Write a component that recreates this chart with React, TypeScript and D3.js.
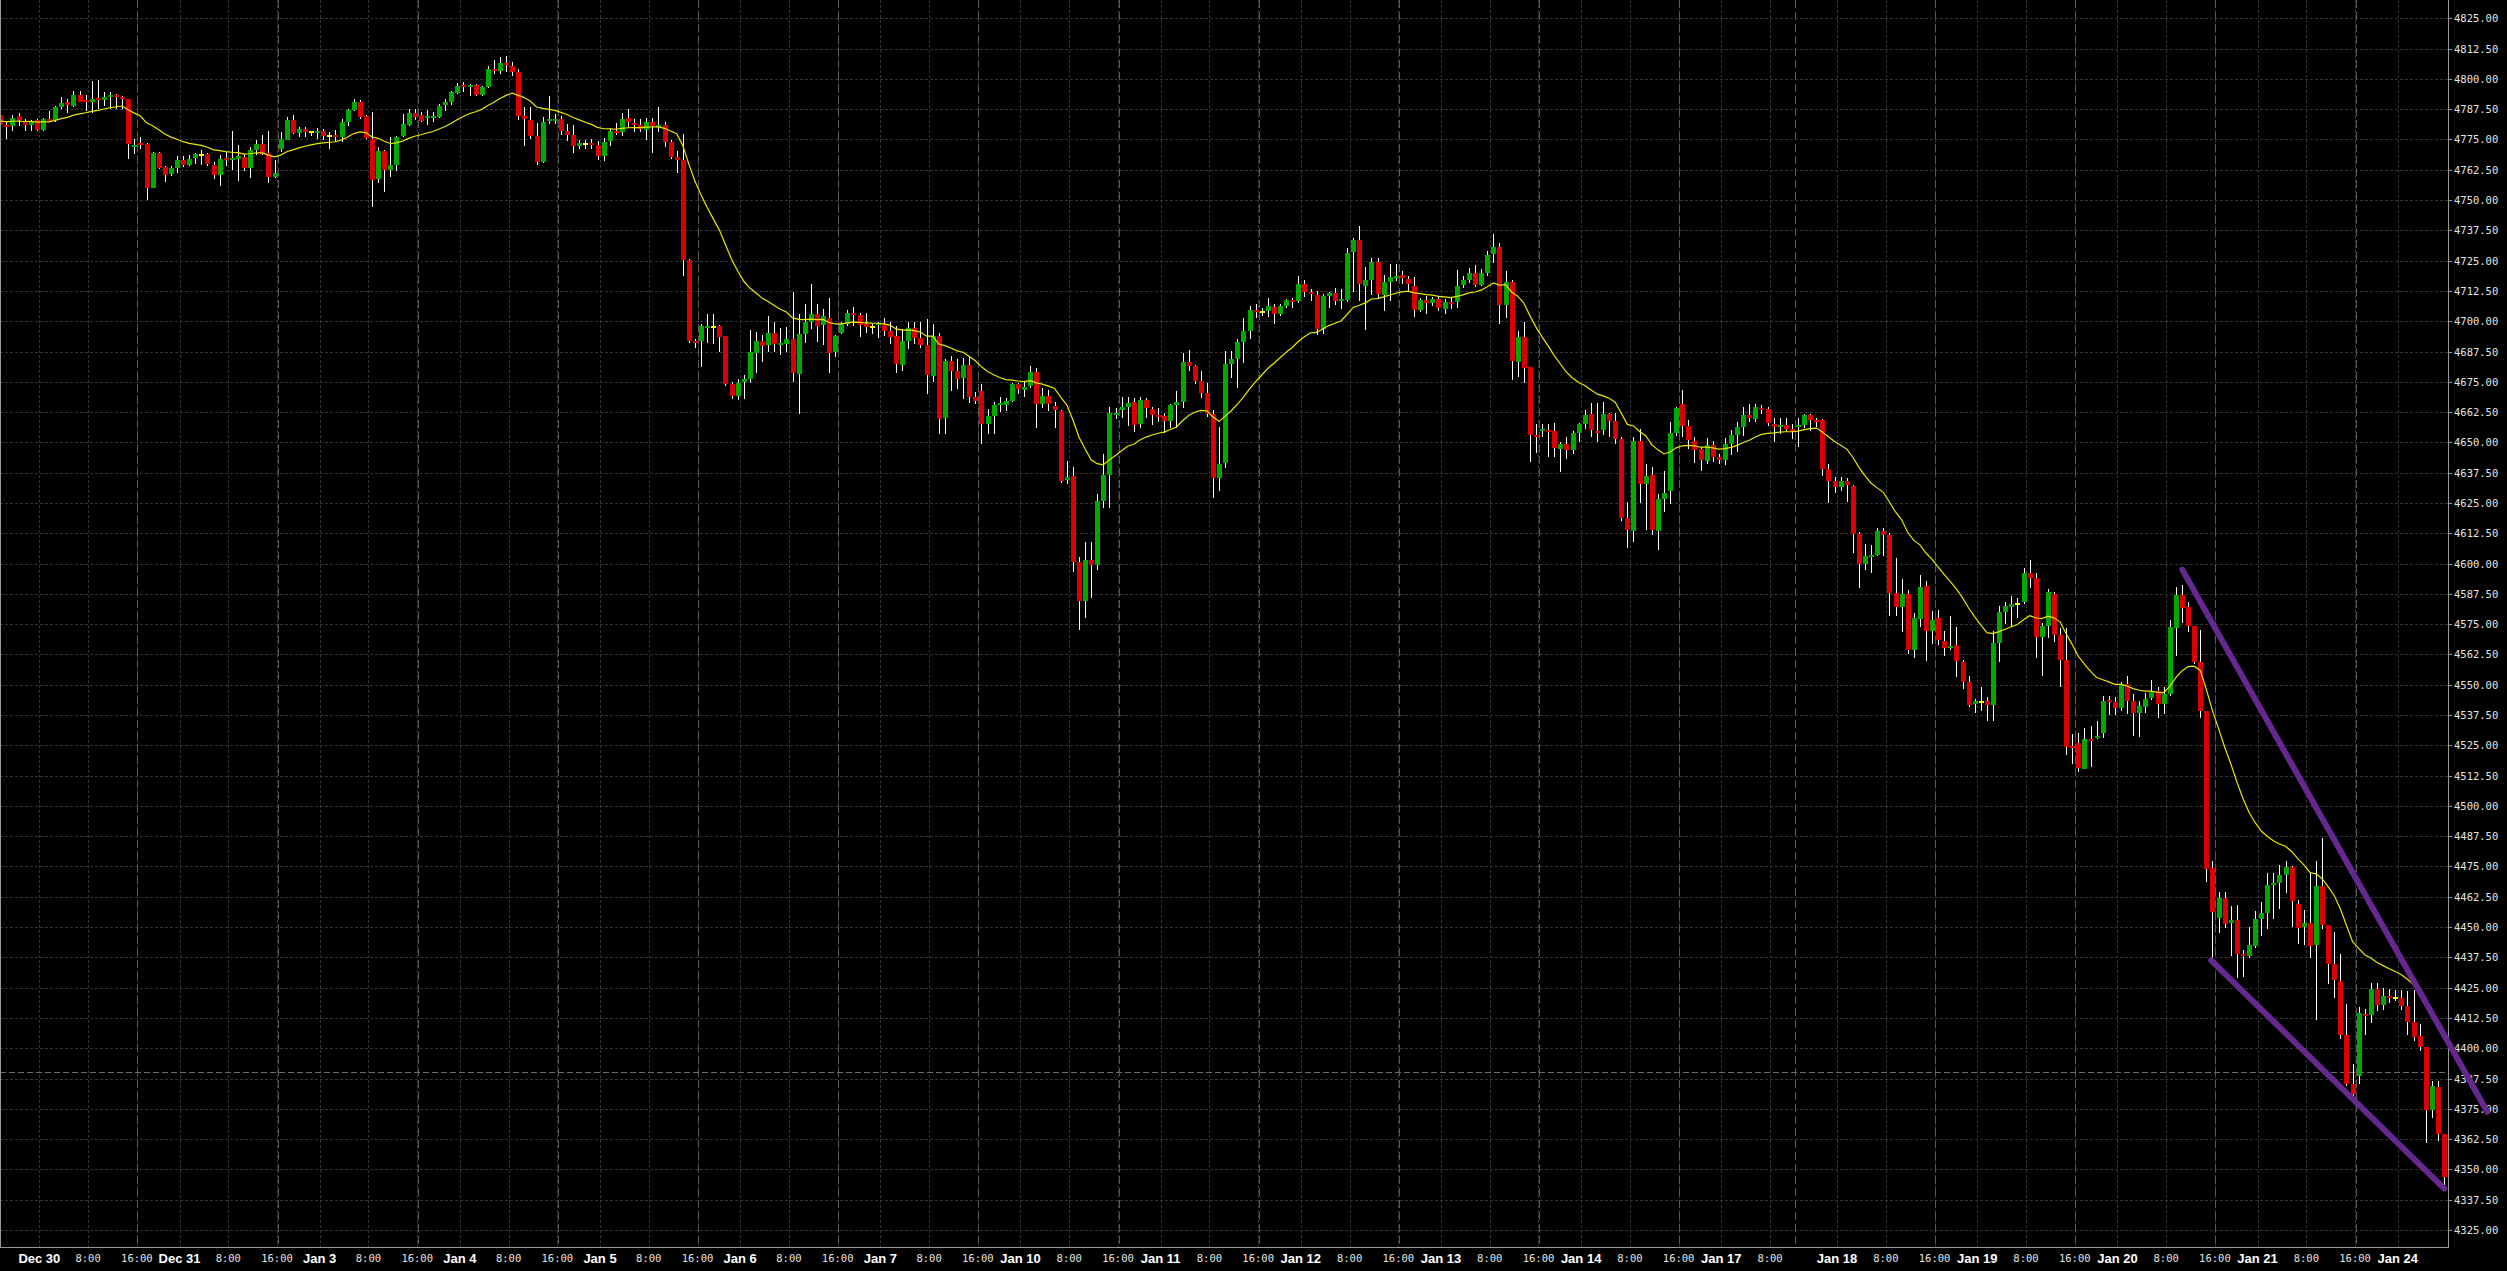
import React from "react";
import * as d3 from "d3";

// ---------- DATA (H1 candles, index 0 = Dec 29 18:00) ----------
const open = [
  4784.9, 4780.7, 4780.7, 4784.5, 4782.4, 4781.2, 4783.1, 4779.1, 4783.1, 4783.1,
  4788.6, 4790.6, 4789.1, 4793.5, 4791.1, 4790.8, 4791.9, 4791.6, 4792.4, 4793.1,
  4792.3, 4791.5, 4771.8, 4773.6, 4773.3, 4755.3, 4769.6, 4763.8, 4761.1, 4763.4,
  4766.7, 4764.6, 4767.1, 4768.5, 4768.8, 4764.6, 4760.5, 4767.1, 4766.4, 4766.9,
  4767.8, 4763.1, 4770.8, 4773.3, 4769.6, 4759.8, 4770.8, 4775.0, 4783.2, 4778.0,
  4779.5, 4778.0, 4777.7, 4778.7, 4776.3, 4776.6, 4776.2, 4782.4, 4787.3, 4790.6,
  4784.5, 4775.4, 4758.9, 4770.4, 4762.7, 4764.6, 4776.2, 4781.2, 4786.1, 4785.3,
  4783.5, 4783.8, 4784.5, 4789.0, 4790.4, 4794.5, 4797.2, 4796.6, 4797.5, 4793.5,
  4796.6, 4803.9, 4803.2, 4806.5, 4805.5, 4803.0, 4784.7, 4783.1, 4776.5, 4765.9,
  4782.4, 4782.7, 4783.4, 4778.3, 4776.8, 4772.4, 4773.2, 4773.5, 4772.8, 4768.2,
  4774.4, 4778.6, 4777.9, 4783.8, 4782.0, 4781.0, 4779.2, 4782.3, 4779.9, 4780.9,
  4774.0, 4767.8, 4766.6, 4725.2, 4691.9, 4691.9, 4697.4, 4697.8, 4698.1, 4693.7,
  4674.0, 4669.2, 4674.7, 4676.1, 4687.1, 4691.9, 4690.1, 4695.1, 4690.1, 4690.5,
  4692.6, 4678.2, 4694.9, 4699.7, 4702.9, 4698.1, 4701.5, 4687.1, 4695.1, 4698.8,
  4703.3, 4702.6, 4699.0, 4697.5, 4698.4, 4698.8, 4696.1, 4693.7, 4682.0, 4691.9,
  4697.1, 4692.9, 4690.1, 4677.7, 4694.0, 4659.9, 4683.6, 4679.5, 4676.4, 4681.9,
  4668.8, 4671.2, 4657.4, 4660.9, 4665.3, 4665.4, 4667.1, 4674.0, 4671.8, 4673.3,
  4678.9, 4665.7, 4669.1, 4665.0, 4663.0, 4634.3, 4636.1, 4600.8, 4584.3, 4601.3,
  4599.4, 4625.8, 4636.5, 4661.3, 4663.4, 4664.6, 4666.5, 4657.2, 4667.3, 4663.9,
  4661.3, 4660.9, 4658.8, 4665.1, 4666.5, 4683.2, 4681.5, 4675.3, 4670.5, 4661.8,
  4635.4, 4641.2, 4682.2, 4684.3, 4691.4, 4696.0, 4704.5, 4703.7, 4703.9, 4705.9,
  4703.1, 4706.3, 4708.6, 4708.3, 4715.2, 4711.8, 4710.8, 4696.6, 4710.4, 4711.6,
  4708.1, 4709.0, 4728.3, 4733.4, 4714.5, 4716.9, 4724.4, 4711.1, 4716.3, 4718.0,
  4718.9, 4717.3, 4714.5, 4704.5, 4708.6, 4707.2, 4709.0, 4705.2, 4708.1, 4707.7,
  4714.9, 4716.9, 4720.1, 4715.2, 4720.1, 4727.7, 4730.7, 4706.8, 4716.3, 4683.3,
  4693.6, 4681.0, 4653.2, 4654.9, 4655.2, 4654.6, 4647.2, 4649.3, 4646.8, 4653.8,
  4657.4, 4661.6, 4654.6, 4654.9, 4661.6, 4658.8, 4651.4, 4618.6, 4613.7, 4650.7,
  4632.9, 4636.5, 4613.3, 4626.7, 4629.8, 4653.8, 4665.8, 4656.6, 4650.4, 4647.2,
  4642.6, 4649.0, 4644.0, 4642.6, 4649.3, 4653.2, 4656.3, 4661.2, 4659.8, 4664.3,
  4663.6, 4657.7, 4656.3, 4657.3, 4655.6, 4656.3, 4657.0, 4661.2, 4659.1, 4659.1,
  4638.9, 4634.0, 4631.5, 4634.0, 4631.9, 4612.0, 4599.8, 4602.9, 4603.6, 4613.4,
  4611.7, 4587.7, 4582.1, 4587.3, 4564.2, 4577.5, 4590.7, 4572.3, 4577.5, 4568.1,
  4565.3, 4566.3, 4559.5, 4551.3, 4542.0, 4542.7, 4543.2, 4541.6, 4567.2, 4579.9,
  4582.3, 4583.5, 4584.0, 4596.0, 4594.0, 4569.6, 4574.2, 4587.6, 4570.6, 4560.3,
  4524.7, 4526.1, 4515.4, 4527.7, 4528.0, 4529.8, 4543.5, 4542.7, 4540.4, 4550.2,
  4543.2, 4538.3, 4541.1, 4544.3, 4547.3, 4541.9, 4546.0, 4573.7, 4587.2, 4582.0,
  4574.2, 4559.5, 4539.1, 4474.2, 4453.9, 4462.1, 4451.7, 4452.9, 4438.8, 4438.0,
  4442.0, 4453.3, 4455.9, 4467.3, 4468.0, 4471.4, 4474.7, 4459.6, 4450.2, 4451.8,
  4442.5, 4466.8, 4450.7, 4434.7, 4427.8, 4405.6, 4385.4, 4388.7, 4414.3, 4413.8,
  4424.6, 4418.0, 4421.6, 4420.8, 4420.8, 4417.6, 4411.0, 4405.0, 4400.4, 4374.3,
  4384.1, 4364.5,
];

const high = [
  4786.2, 4782.8, 4784.9, 4786.0, 4783.5, 4783.1, 4783.5, 4783.8, 4786.9, 4789.0,
  4792.7, 4791.7, 4794.8, 4794.8, 4793.4, 4799.2, 4799.7, 4794.5, 4794.5, 4793.8,
  4793.1, 4791.7, 4775.2, 4776.2, 4773.6, 4769.7, 4769.7, 4764.2, 4764.0, 4768.0,
  4768.0, 4768.6, 4769.3, 4770.7, 4769.3, 4765.6, 4768.4, 4769.7, 4778.7, 4772.8,
  4769.1, 4771.8, 4774.6, 4776.9, 4778.3, 4766.6, 4778.0, 4784.2, 4784.9, 4780.1,
  4780.3, 4778.7, 4779.8, 4779.4, 4778.0, 4779.1, 4783.5, 4787.6, 4791.5, 4791.1,
  4784.9, 4786.5, 4771.8, 4770.7, 4775.9, 4776.3, 4785.6, 4787.6, 4787.6, 4786.2,
  4787.2, 4786.2, 4789.7, 4791.7, 4795.0, 4798.3, 4798.6, 4797.9, 4797.9, 4797.0,
  4805.5, 4807.6, 4809.0, 4809.5, 4807.0, 4804.0, 4788.2, 4788.2, 4782.0, 4784.1,
  4793.0, 4785.4, 4784.5, 4781.3, 4780.9, 4774.7, 4774.7, 4775.1, 4774.4, 4775.8,
  4779.9, 4781.7, 4786.1, 4787.5, 4783.4, 4783.4, 4784.0, 4784.0, 4788.2, 4782.3,
  4774.8, 4770.3, 4777.2, 4725.6, 4692.6, 4698.8, 4702.9, 4702.9, 4698.4, 4694.0,
  4675.0, 4676.1, 4677.7, 4696.4, 4695.5, 4694.2, 4702.2, 4699.7, 4697.4, 4697.7,
  4711.9, 4702.9, 4707.0, 4715.3, 4707.0, 4705.0, 4709.4, 4694.2, 4699.7, 4704.6,
  4705.7, 4703.3, 4703.3, 4699.0, 4699.7, 4701.5, 4699.5, 4698.1, 4696.7, 4699.7,
  4699.7, 4699.5, 4701.1, 4699.0, 4695.1, 4684.3, 4685.7, 4684.3, 4685.0, 4685.7,
  4670.6, 4674.0, 4663.6, 4666.8, 4668.7, 4668.2, 4674.6, 4674.6, 4675.0, 4681.5,
  4680.8, 4672.6, 4671.5, 4666.8, 4663.2, 4642.3, 4639.8, 4602.7, 4608.9, 4608.9,
  4628.6, 4645.3, 4664.6, 4664.3, 4668.7, 4668.7, 4668.2, 4668.7, 4668.4, 4664.6,
  4664.3, 4662.3, 4666.0, 4671.2, 4687.0, 4688.0, 4681.9, 4679.5, 4674.6, 4663.2,
  4656.3, 4687.7, 4687.7, 4692.5, 4701.5, 4706.3, 4707.0, 4705.6, 4709.4, 4707.0,
  4707.0, 4709.0, 4709.4, 4718.7, 4716.9, 4713.2, 4712.5, 4711.1, 4712.2, 4713.8,
  4713.2, 4730.3, 4734.5, 4739.3, 4722.4, 4725.9, 4726.2, 4719.1, 4723.7, 4723.5,
  4720.7, 4718.7, 4718.2, 4709.4, 4710.4, 4710.0, 4710.4, 4709.0, 4709.4, 4721.0,
  4718.7, 4722.1, 4723.3, 4721.6, 4729.1, 4736.1, 4732.3, 4720.8, 4717.0, 4696.1,
  4699.6, 4681.1, 4657.7, 4657.4, 4657.4, 4658.0, 4650.0, 4652.4, 4654.9, 4658.0,
  4663.3, 4666.3, 4666.3, 4666.8, 4662.2, 4662.2, 4652.1, 4625.6, 4652.1, 4655.6,
  4641.2, 4639.8, 4628.7, 4638.2, 4658.4, 4664.7, 4671.7, 4659.1, 4652.4, 4647.9,
  4651.8, 4650.7, 4645.4, 4651.8, 4655.2, 4658.4, 4664.4, 4665.8, 4665.8, 4665.4,
  4664.4, 4660.2, 4660.2, 4660.2, 4657.4, 4660.2, 4661.9, 4661.9, 4660.2, 4659.8,
  4641.2, 4635.7, 4635.7, 4635.4, 4632.3, 4613.1, 4608.2, 4607.5, 4614.8, 4614.5,
  4612.8, 4602.2, 4593.5, 4589.1, 4579.6, 4595.2, 4592.8, 4580.3, 4580.7, 4572.3,
  4578.2, 4573.7, 4560.3, 4553.8, 4544.3, 4549.2, 4544.8, 4572.1, 4582.3, 4584.0,
  4586.7, 4585.6, 4598.0, 4601.5, 4596.0, 4575.5, 4589.4, 4588.4, 4573.4, 4573.4,
  4529.6, 4530.1, 4532.3, 4532.9, 4535.0, 4545.3, 4545.3, 4544.8, 4551.3, 4553.5,
  4546.0, 4543.2, 4546.4, 4551.8, 4549.2, 4549.2, 4576.6, 4590.5, 4591.0, 4584.0,
  4574.2, 4572.6, 4539.1, 4477.4, 4464.4, 4464.4, 4458.8, 4459.2, 4440.4, 4450.2,
  4456.7, 4460.5, 4472.2, 4472.5, 4475.5, 4477.4, 4475.1, 4461.1, 4457.2, 4472.5,
  4477.4, 4486.9, 4451.0, 4448.1, 4438.8, 4418.4, 4393.6, 4417.1, 4416.4, 4426.9,
  4426.9, 4424.9, 4424.6, 4424.1, 4424.1, 4423.6, 4424.1, 4409.9, 4400.6, 4386.6,
  4386.6, 4364.5,
];

const low = [
  4778.7, 4775.2, 4778.7, 4780.7, 4778.7, 4778.7, 4778.7, 4778.7, 4782.1, 4782.1,
  4787.6, 4786.0, 4788.3, 4790.4, 4786.9, 4786.0, 4787.6, 4789.0, 4787.6, 4787.6,
  4787.6, 4767.0, 4769.1, 4771.1, 4750.2, 4755.0, 4762.9, 4757.4, 4760.1, 4761.1,
  4763.5, 4764.2, 4764.9, 4764.6, 4764.2, 4758.5, 4755.7, 4764.2, 4762.2, 4757.8,
  4761.9, 4759.0, 4768.6, 4768.6, 4756.9, 4759.0, 4769.7, 4774.6, 4777.3, 4775.9,
  4776.2, 4776.6, 4775.2, 4774.6, 4771.1, 4773.9, 4773.9, 4780.7, 4786.9, 4783.5,
  4775.0, 4747.0, 4757.1, 4753.2, 4759.4, 4761.8, 4775.9, 4780.5, 4783.2, 4782.1,
  4781.0, 4782.4, 4783.8, 4786.9, 4789.3, 4793.8, 4794.5, 4792.8, 4793.1, 4793.1,
  4796.3, 4802.1, 4802.0, 4803.0, 4801.0, 4783.0, 4772.4, 4775.1, 4764.4, 4765.2,
  4781.3, 4781.3, 4776.8, 4774.4, 4769.3, 4771.0, 4771.0, 4771.0, 4766.6, 4766.2,
  4772.4, 4776.8, 4776.5, 4779.9, 4777.9, 4777.9, 4774.7, 4769.6, 4777.9, 4771.7,
  4766.9, 4761.1, 4718.7, 4691.2, 4689.1, 4681.3, 4691.2, 4690.5, 4687.4, 4673.1,
  4667.8, 4667.5, 4668.1, 4674.7, 4678.6, 4683.2, 4687.1, 4687.4, 4686.0, 4687.4,
  4675.0, 4661.6, 4691.2, 4696.7, 4691.5, 4690.1, 4678.6, 4685.4, 4694.6, 4698.1,
  4698.1, 4693.3, 4695.1, 4694.7, 4692.9, 4694.0, 4690.5, 4678.6, 4679.5, 4688.7,
  4690.5, 4689.1, 4669.9, 4675.0, 4653.4, 4653.4, 4671.3, 4672.0, 4668.1, 4666.2,
  4665.8, 4649.5, 4653.3, 4653.3, 4662.7, 4663.0, 4666.8, 4670.1, 4668.7, 4672.6,
  4655.8, 4664.0, 4663.0, 4656.1, 4633.4, 4632.7, 4596.6, 4572.4, 4577.4, 4585.9,
  4597.2, 4622.8, 4622.8, 4659.5, 4659.9, 4656.8, 4654.4, 4656.1, 4660.2, 4657.2,
  4658.5, 4654.0, 4655.8, 4655.8, 4664.3, 4679.5, 4673.9, 4668.4, 4660.5, 4626.9,
  4629.9, 4639.6, 4676.7, 4672.6, 4682.9, 4692.5, 4701.5, 4702.2, 4701.7, 4698.7,
  4702.2, 4705.6, 4705.6, 4707.6, 4710.0, 4708.3, 4694.3, 4694.9, 4705.6, 4706.7,
  4704.9, 4708.1, 4712.2, 4708.3, 4696.2, 4710.8, 4709.0, 4704.2, 4708.3, 4716.6,
  4715.2, 4712.5, 4701.7, 4703.9, 4702.8, 4706.3, 4704.2, 4703.1, 4704.9, 4705.6,
  4713.8, 4715.9, 4714.2, 4714.6, 4718.8, 4724.0, 4698.9, 4701.2, 4675.8, 4676.8,
  4674.7, 4642.1, 4645.8, 4652.4, 4643.8, 4644.0, 4637.9, 4643.0, 4645.2, 4650.0,
  4655.6, 4652.4, 4650.0, 4653.2, 4652.4, 4649.3, 4617.5, 4606.4, 4609.0, 4624.9,
  4613.8, 4611.7, 4605.4, 4621.4, 4624.5, 4652.8, 4652.4, 4647.2, 4641.6, 4638.4,
  4641.2, 4642.1, 4641.2, 4640.7, 4644.9, 4645.9, 4652.8, 4658.4, 4658.4, 4661.9,
  4656.6, 4650.0, 4653.5, 4654.2, 4651.4, 4647.9, 4656.0, 4654.6, 4656.3, 4636.1,
  4624.9, 4629.1, 4629.8, 4625.6, 4604.4, 4590.0, 4597.4, 4596.3, 4603.0, 4603.0,
  4578.2, 4578.3, 4571.9, 4562.8, 4561.2, 4574.0, 4560.0, 4566.7, 4566.3, 4561.7,
  4564.2, 4553.3, 4548.1, 4540.7, 4538.3, 4539.1, 4535.0, 4535.0, 4559.5, 4575.0,
  4573.7, 4577.4, 4583.2, 4590.0, 4561.1, 4553.8, 4569.3, 4567.7, 4548.9, 4521.2,
  4517.1, 4513.8, 4515.4, 4515.9, 4527.7, 4528.0, 4537.5, 4537.5, 4539.1, 4537.8,
  4529.0, 4528.5, 4538.3, 4543.7, 4536.2, 4537.8, 4545.3, 4562.0, 4575.3, 4571.7,
  4558.4, 4536.2, 4468.6, 4437.1, 4447.7, 4449.7, 4438.0, 4429.0, 4429.3, 4437.1,
  4441.2, 4446.4, 4449.0, 4453.4, 4457.5, 4464.1, 4450.2, 4443.2, 4442.8, 4437.1,
  4411.8, 4449.4, 4426.5, 4420.8, 4404.0, 4384.4, 4380.5, 4385.4, 4405.6, 4410.5,
  4415.4, 4415.9, 4418.7, 4419.7, 4415.9, 4405.3, 4402.9, 4399.0, 4360.9, 4371.4,
  4361.6, 4343.3,
];

const close = [
  4780.7, 4780.1, 4784.0, 4782.8, 4781.2, 4782.7, 4779.1, 4783.5, 4782.7, 4788.3,
  4790.2, 4789.5, 4793.5, 4790.8, 4790.4, 4791.9, 4791.2, 4792.7, 4793.1, 4792.4,
  4791.6, 4772.8, 4772.6, 4773.0, 4755.3, 4769.6, 4763.5, 4760.5, 4763.4, 4766.7,
  4764.6, 4767.1, 4768.8, 4768.5, 4764.6, 4760.5, 4767.1, 4766.4, 4767.1, 4768.0,
  4763.1, 4770.7, 4773.3, 4769.3, 4759.7, 4761.3, 4775.0, 4783.2, 4778.0, 4779.5,
  4778.4, 4778.0, 4778.4, 4776.6, 4776.3, 4775.9, 4782.4, 4787.3, 4790.6, 4784.5,
  4775.4, 4758.6, 4770.4, 4762.7, 4764.6, 4776.2, 4781.2, 4786.1, 4784.5, 4782.8,
  4784.5, 4784.5, 4789.0, 4790.4, 4794.5, 4797.2, 4796.6, 4797.5, 4793.5, 4796.6,
  4803.9, 4803.2, 4806.5, 4805.5, 4803.0, 4784.7, 4783.4, 4776.5, 4765.9, 4782.3,
  4783.4, 4783.4, 4778.3, 4776.8, 4772.4, 4773.5, 4773.2, 4772.8, 4768.2, 4774.0,
  4778.6, 4777.9, 4783.4, 4782.0, 4781.0, 4779.2, 4782.3, 4780.6, 4780.9, 4773.7,
  4767.8, 4766.6, 4725.2, 4691.9, 4691.2, 4698.1, 4698.1, 4697.8, 4693.7, 4673.7,
  4669.2, 4674.7, 4676.1, 4687.1, 4691.9, 4689.8, 4695.1, 4690.5, 4690.7, 4692.6,
  4678.6, 4694.9, 4699.7, 4702.9, 4698.1, 4702.0, 4687.1, 4693.7, 4698.8, 4703.3,
  4702.6, 4698.5, 4697.8, 4697.5, 4699.1, 4696.1, 4693.7, 4682.0, 4691.9, 4697.1,
  4692.9, 4690.1, 4677.7, 4694.0, 4659.9, 4683.6, 4679.5, 4676.4, 4681.9, 4668.8,
  4667.1, 4657.4, 4660.9, 4665.4, 4666.0, 4667.1, 4674.0, 4671.9, 4672.9, 4678.9,
  4665.7, 4669.1, 4665.7, 4663.4, 4634.3, 4635.7, 4600.8, 4584.8, 4601.3, 4599.3,
  4625.8, 4636.5, 4662.1, 4662.1, 4664.6, 4666.2, 4657.2, 4667.3, 4663.9, 4661.3,
  4660.5, 4658.8, 4665.4, 4666.5, 4683.2, 4681.5, 4675.3, 4670.5, 4661.8, 4635.4,
  4641.0, 4682.2, 4684.3, 4691.4, 4696.0, 4704.5, 4703.9, 4703.7, 4706.1, 4703.1,
  4706.3, 4708.6, 4708.1, 4715.2, 4711.8, 4711.1, 4696.6, 4710.4, 4711.6, 4708.1,
  4709.0, 4728.3, 4733.4, 4715.2, 4716.9, 4724.4, 4711.1, 4716.3, 4718.2, 4718.7,
  4717.7, 4715.2, 4704.5, 4708.6, 4707.2, 4709.0, 4705.2, 4707.9, 4707.2, 4714.5,
  4716.9, 4719.9, 4715.2, 4720.1, 4727.5, 4730.7, 4706.8, 4716.3, 4683.8, 4693.6,
  4681.0, 4652.8, 4652.4, 4655.6, 4654.5, 4647.7, 4649.3, 4646.8, 4653.8, 4657.4,
  4661.2, 4654.9, 4654.1, 4661.6, 4658.8, 4651.4, 4618.6, 4613.7, 4650.7, 4632.9,
  4636.1, 4613.8, 4626.7, 4629.1, 4653.8, 4664.0, 4656.6, 4650.7, 4646.5, 4642.6,
  4649.0, 4644.0, 4642.6, 4649.3, 4653.2, 4656.3, 4661.2, 4659.8, 4664.7, 4663.6,
  4657.7, 4656.3, 4657.3, 4655.6, 4654.6, 4657.0, 4661.2, 4659.1, 4658.4, 4638.9,
  4634.0, 4631.5, 4634.0, 4632.3, 4612.0, 4599.8, 4603.3, 4603.6, 4613.4, 4611.7,
  4587.7, 4582.1, 4587.3, 4564.2, 4577.5, 4590.5, 4572.3, 4576.8, 4568.4, 4565.3,
  4565.9, 4559.8, 4551.3, 4542.0, 4543.2, 4542.7, 4541.6, 4567.2, 4579.9, 4582.3,
  4583.5, 4583.5, 4596.0, 4594.0, 4569.6, 4574.2, 4588.1, 4570.6, 4560.3, 4524.4,
  4524.1, 4515.9, 4527.7, 4527.0, 4529.0, 4543.2, 4542.7, 4540.4, 4550.2, 4543.2,
  4538.3, 4541.1, 4544.3, 4547.3, 4541.9, 4546.0, 4573.7, 4587.2, 4582.0, 4574.2,
  4559.5, 4539.1, 4473.8, 4456.2, 4462.1, 4451.3, 4452.9, 4438.8, 4438.0, 4442.5,
  4453.3, 4455.9, 4467.3, 4468.0, 4471.4, 4474.7, 4460.5, 4449.9, 4451.8, 4442.5,
  4466.8, 4450.7, 4434.7, 4428.2, 4405.6, 4385.4, 4381.2, 4414.6, 4413.5, 4424.6,
  4418.0, 4421.6, 4420.8, 4420.8, 4417.6, 4411.0, 4405.0, 4400.4, 4374.3, 4384.4,
  4364.5, 4346.6,
];

// Moving average (exponential, period 20) — value just before the first bar
const maPeriod = 20;
const maSeed = 4782.8;

// Price axis ticks
const priceTicks = [
  4325, 4337.5, 4350, 4362.5, 4375, 4387.5, 4400, 4412.5, 4425, 4437.5,
  4450, 4462.5, 4475, 4487.5, 4500, 4512.5, 4525, 4537.5, 4550, 4562.5,
  4575, 4587.5, 4600, 4612.5, 4625, 4637.5, 4650, 4662.5, 4675, 4687.5,
  4700, 4712.5, 4725, 4737.5, 4750, 4762.5, 4775, 4787.5, 4800, 4812.5, 4825,
];

// Time axis ticks (bar index, label)
const timeTickIdx = [
  6, 14, 22, 29, 37, 45, 52, 60, 68, 75, 83, 91, 98, 106, 114, 121, 129, 137,
  144, 152, 160, 167, 175, 183, 190, 198, 206, 213, 221, 229, 236, 244, 252,
  259, 267, 275, 282, 290, 301, 309, 317, 324, 332, 340, 347, 355, 363, 370,
  378, 386, 393,
];
const timeTickText = [
  "Dec 30", "8:00", "16:00", "Dec 31", "8:00", "16:00", "Jan 3", "8:00", "16:00",
  "Jan 4", "8:00", "16:00", "Jan 5", "8:00", "16:00", "Jan 6", "8:00", "16:00",
  "Jan 7", "8:00", "16:00", "Jan 10", "8:00", "16:00", "Jan 11", "8:00", "16:00",
  "Jan 12", "8:00", "16:00", "Jan 13", "8:00", "16:00", "Jan 14", "8:00", "16:00",
  "Jan 17", "8:00", "Jan 18", "8:00", "16:00", "Jan 19", "8:00", "16:00",
  "Jan 20", "8:00", "16:00", "Jan 21", "8:00", "16:00", "Jan 24",
];

// Session separators (after these bars)
const separatorIdx = [22, 45, 68, 91, 114, 137, 160, 183, 206, 229, 252, 275, 294, 317, 340, 363, 386];

// Dashed horizontal level
const levelPrice = 4390;

// Hand-drawn trend lines: [barIndex, price]
const trendUpper: [number, number][] = [[358.05, 4597.5], [408.1, 4373.8]];
const trendLower: [number, number][] = [[362.8, 4436.25], [401.05, 4342.1]];

// ---------- CHART ----------
const W = 2507;
const H = 1271;
const PLOT_R = 2448;
const PLOT_B = 1247;

export default function App() {
  const n = close.length;
  const x = d3.scaleLinear().domain([0, 401]).range([0.3, 2443.99]);
  const y = d3.scaleLinear().domain([4325, 4825]).range([1230, 18.3]);

  const alpha = 2 / (maPeriod + 1);
  const ma: number[] = [];
  let prev = maSeed;
  for (let i = 0; i < n; i++) {
    prev = prev + alpha * (close[i] - prev);
    ma.push(prev);
  }
  const maPath = d3
    .line<number>()
    .x((_, i) => x(i))
    .y((v) => y(v))(ma) as string;

  const trendLine = d3
    .line<[number, number]>()
    .x((d) => x(d[0]))
    .y((d) => y(d[1]));

  const gridColor = "#333333";
  const green = "#00a800";
  const red = "#d80000";

  return (
    <div style={{ position: "fixed", left: 0, top: 0, width: W, height: H, background: "#000" }}>
      <svg width={W} height={H} style={{ display: "block", background: "#000" }}>
        <defs>
          <clipPath id="plot">
            <rect x={0} y={0} width={PLOT_R} height={PLOT_B} />
          </clipPath>
        </defs>

        {/* grid */}
        <g shapeRendering="crispEdges">
          {priceTicks.map((p, k) => (
            <line
              key={"hg" + k}
              x1={0}
              x2={PLOT_R}
              y1={Math.round(y(p)) + 0.5}
              y2={Math.round(y(p)) + 0.5}
              stroke={gridColor}
              strokeDasharray="3,2"
            />
          ))}
          {timeTickIdx.map((t, k) => (
            <line
              key={"vg" + k}
              x1={Math.round(x(t) + 2.5) + 0.5}
              x2={Math.round(x(t) + 2.5) + 0.5}
              y1={0}
              y2={PLOT_B}
              stroke={gridColor}
              strokeDasharray="3,2"
            />
          ))}
          {separatorIdx.map((t, k) => (
            <line
              key={"sep" + k}
              x1={Math.round(x(t + 0.5)) + 0.5}
              x2={Math.round(x(t + 0.5)) + 0.5}
              y1={0}
              y2={PLOT_B}
              stroke="#5a5a5a"
              strokeDasharray="8,4"
            />
          ))}
          <line
            x1={0}
            x2={PLOT_R}
            y1={Math.round(y(levelPrice)) + 0.5}
            y2={Math.round(y(levelPrice)) + 0.5}
            stroke="#6c6c6c"
            strokeDasharray="6,3"
          />
        </g>

        {/* candles */}
        <g clipPath="url(#plot)" shapeRendering="crispEdges">
          {close.map((c, i) => {
            const o = open[i];
            const hi = Math.max(high[i], o, c);
            const lo = Math.min(low[i], o, c);
            const cx = Math.round(x(i));
            const top = y(Math.max(o, c));
            const bot = y(Math.min(o, c));
            const doji = o === c;
            let bh = bot - top;
            let by = top;
            if (bh < 2) {
              by = (top + bot) / 2 - 1;
              bh = 2;
            }
            return (
              <g key={"c" + i}>
                <line x1={cx + 0.5} x2={cx + 0.5} y1={y(hi)} y2={y(lo)} stroke="#ffffff" strokeWidth={1} />
                <rect
                  x={cx - 2}
                  y={Math.round(by)}
                  width={5}
                  height={Math.max(2, Math.round(bh))}
                  fill={doji ? "#ffff00" : c > o ? green : red}
                />
              </g>
            );
          })}
        </g>

        {/* moving average */}
        <g clipPath="url(#plot)">
          <path d={maPath} fill="none" stroke="#e8e800" strokeWidth={1.2} />
        </g>

        {/* frame */}
        <g shapeRendering="crispEdges">
          <line x1={PLOT_R + 0.5} x2={PLOT_R + 0.5} y1={0} y2={PLOT_B + 1} stroke="#9a9a9a" />
          <line x1={0} x2={PLOT_R + 1} y1={PLOT_B + 0.5} y2={PLOT_B + 0.5} stroke="#9a9a9a" />
          <line x1={0.5} x2={0.5} y1={0} y2={PLOT_B} stroke="#9a9a9a" />
          {priceTicks.map((p, k) => (
            <line
              key={"tk" + k}
              x1={PLOT_R}
              x2={PLOT_R + 4}
              y1={Math.round(y(p)) + 0.5}
              y2={Math.round(y(p)) + 0.5}
              stroke="#9a9a9a"
            />
          ))}
        </g>

        {/* price labels */}
        <g fontFamily="'DejaVu Sans Mono', monospace" fontSize={10.5} fill="#e4e4e4">
          {priceTicks.map((p, k) => (
            <text key={"pl" + k} x={PLOT_R + 6} y={y(p)} dominantBaseline="central">
              {p.toFixed(2)}
            </text>
          ))}
        </g>

        {/* time labels */}
        <g>
          {timeTickIdx.map((t, k) => {
            const txt = timeTickText[k];
            const isDate = !txt.includes(":");
            return (
              <text
                key={"tl" + k}
                x={x(t) + 2.5}
                y={1258}
                textAnchor="middle"
                dominantBaseline="central"
                fontFamily={isDate ? "'Liberation Sans', Arial, sans-serif" : "'DejaVu Sans Mono', monospace"}
                fontWeight={isDate ? "bold" : "normal"}
                fontSize={isDate ? 13 : 10.5}
                fill={isDate ? "#ffffff" : "#e4e4e4"}
              >
                {txt}
              </text>
            );
          })}
        </g>

        {/* trend lines */}
        <g fill="none" stroke="#65288f" strokeWidth={6} strokeLinecap="round">
          <path d={trendLine(trendUpper) as string} />
          <path d={trendLine(trendLower) as string} />
        </g>
      </svg>
    </div>
  );
}
